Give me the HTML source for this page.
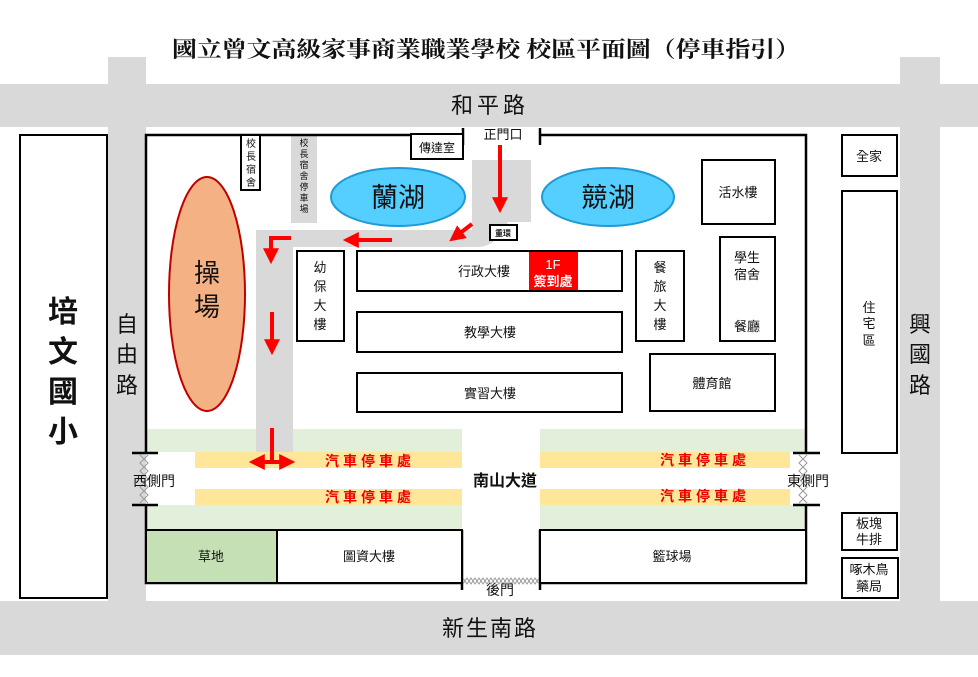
<!DOCTYPE html>
<html><head><meta charset="utf-8"><style>
html,body{margin:0;padding:0;background:#fff;width:978px;height:677px;overflow:hidden}
svg{display:block}
text{font-family:"Liberation Sans","Noto Sans CJK TC",sans-serif;fill:#111}
</style></head><body>
<svg width="978" height="677" viewBox="0 0 978 677" xmlns="http://www.w3.org/2000/svg">
<defs>
<marker id="ah" markerWidth="4" markerHeight="4" refX="2.2" refY="2" orient="auto" markerUnits="strokeWidth">
<path d="M0,0 L4,2 L0,4 z" fill="#f00"/></marker>
</defs>
<g fill="#d9d9d9">
<rect x="0" y="84" width="978" height="43"/>
<rect x="0" y="601" width="978" height="54"/>
<rect x="108" y="57" width="38" height="598"/>
<rect x="900" y="57" width="40" height="598"/>
</g>
<text x="172" y="57" textLength="628" lengthAdjust="spacingAndGlyphs" font-size="22" font-weight="bold" style="font-family:'Noto Serif CJK SC','Liberation Serif',serif">國立曾文高級家事商業職業學校 校區平面圖（停車指引）</text>
<text x="490" y="113" text-anchor="middle" font-size="22" letter-spacing="4">和平路</text>
<text x="490" y="636" text-anchor="middle" font-size="22" letter-spacing="2">新生南路</text>
<g font-size="22" text-anchor="middle">
<text x="127" y="332">自</text><text x="127" y="362">由</text><text x="127" y="393">路</text>
<text x="920" y="332">興</text><text x="920" y="362">國</text><text x="920" y="393">路</text>
</g>
<rect x="146" y="135" width="660" height="466" fill="#fff"/>
<rect x="146" y="429" width="316" height="101" fill="#e2efda"/>
<rect x="540" y="429" width="266" height="101" fill="#e2efda"/>
<rect x="146" y="468" width="316" height="21" fill="#fff"/>
<rect x="540" y="468" width="266" height="21" fill="#fff"/>
<rect x="146" y="452" width="49" height="53" fill="#fff"/>
<rect x="790" y="452" width="16" height="53" fill="#fff"/>
<g fill="#ffe699">
<rect x="195" y="452" width="267" height="16"/><rect x="195" y="489" width="267" height="16"/>
<rect x="540" y="452" width="250" height="16"/><rect x="540" y="489" width="250" height="16"/>
</g>
<g font-size="14" font-weight="bold" letter-spacing="4" text-anchor="middle">
<text x="370" y="466" style="fill:#e00">汽車停車處</text><text x="370" y="502" style="fill:#e00">汽車停車處</text>
<text x="705" y="465" style="fill:#e00">汽車停車處</text><text x="705" y="501" style="fill:#e00">汽車停車處</text>
</g>
<g fill="#d9d9d9">
<rect x="256" y="230" width="37" height="222"/>
<path d="M256,230 H472 V160 H531 V222 H508 Q496,247 478,247 H256 Z"/>
<rect x="291" y="135" width="26" height="88"/>
</g>
<ellipse cx="207" cy="294" rx="38" ry="117" fill="#f4b183" stroke="#c00000" stroke-width="2"/>
<text x="207" y="282" font-size="26" text-anchor="middle">操</text>
<text x="207" y="316" font-size="26" text-anchor="middle">場</text>
<ellipse cx="398" cy="197" rx="67" ry="29" fill="#55cfff" stroke="#1e9ad6" stroke-width="2"/>
<text x="398" y="207" font-size="27" text-anchor="middle">蘭湖</text>
<ellipse cx="608" cy="197" rx="66" ry="29" fill="#55cfff" stroke="#1e9ad6" stroke-width="2"/>
<text x="608" y="207" font-size="27" text-anchor="middle">競湖</text>
<g stroke="#000" stroke-width="2.5" fill="none">
<path d="M463,135 H146 V453"/>
<path d="M146,505 V583 H462"/>
<path d="M540,135 H806 V453"/>
<path d="M806,505 V583 H540"/>
<path d="M463,128 V145 M540,128 V145"/>
<path d="M462,530 V590 M540,530 V590"/>
<path d="M132,453 H158 M132,505 H158"/>
<path d="M793,453 H820 M793,505 H820"/>
</g>
<g stroke="#999" stroke-width="1" fill="none">
<path d="M140,455 L148,463 L140,471 L148,479 L140,487 L148,495 L140,503 M148,455 L140,463 L148,471 L140,479 L148,487 L140,495 L148,503"/>
<path d="M799,455 L807,463 L799,471 L807,479 L799,487 L807,495 L799,503 M807,455 L799,463 L807,471 L799,479 L807,487 L799,495 L807,503"/>
<path d="M463,578 L467,584 L471,578 L475,584 L479,578 L483,584 L487,578 L491,584 L495,578 L499,584 L503,578 L507,584 L511,578 L515,584 L519,578 L523,584 L527,578 L531,584 L535,578 L539,584 M463,584 L467,578 L471,584 L475,578 L479,584 L483,578 L487,584 L491,578 L495,584 L499,578 L503,584 L507,578 L511,584 L515,578 L519,584 L523,578 L527,584 L531,578 L535,584 L539,578"/>
</g>
<g fill="#fff" stroke="#000" stroke-width="2">
<rect x="20" y="135" width="87" height="463"/>
<rect x="241" y="135" width="19" height="55"/>
<rect x="411" y="134" width="52" height="25"/>
<rect x="490" y="225" width="27" height="15"/>
<rect x="702" y="160" width="73" height="64"/>
<rect x="720" y="237" width="55" height="104"/>
<rect x="636" y="251" width="48" height="90"/>
<rect x="297" y="251" width="47" height="90"/>
<rect x="357" y="251" width="265" height="40"/>
<rect x="357" y="312" width="265" height="40"/>
<rect x="357" y="373" width="265" height="39"/>
<rect x="650" y="354" width="125" height="57"/>
<rect x="842" y="135" width="55" height="41"/>
<rect x="842" y="191" width="55" height="262"/>
<rect x="842" y="513" width="55" height="37"/>
<rect x="842" y="558" width="56" height="40"/>
<rect x="146" y="530" width="131" height="53" fill="#c5e0b4"/>
<rect x="277" y="530" width="185" height="53"/>
<rect x="540" y="530" width="266" height="53"/>
</g>
<rect x="529" y="252" width="49" height="38" fill="#f00"/>
<text x="553" y="269" font-size="13" text-anchor="middle" style="fill:#fff">1F</text>
<text x="553" y="286" font-size="13" font-weight="bold" text-anchor="middle" style="fill:#fff">簽到處</text>
<g font-size="13" text-anchor="middle">
<text x="503" y="139">正門口</text>
<text x="437" y="152" font-size="12">傳達室</text>
<text x="503" y="236" font-size="8" font-weight="bold">重環</text>
<text x="738" y="197">活水樓</text>
<text x="747" y="262">學生</text><text x="747" y="279">宿舍</text><text x="747" y="331">餐廳</text>
<text x="660" y="272">餐</text><text x="660" y="291">旅</text><text x="660" y="310">大</text><text x="660" y="329">樓</text>
<text x="320" y="272">幼</text><text x="320" y="291">保</text><text x="320" y="310">大</text><text x="320" y="329">樓</text>
<text x="484" y="276">行政大樓</text>
<text x="490" y="337">教學大樓</text>
<text x="490" y="398">實習大樓</text>
<text x="712" y="388">體育館</text>
<text x="869" y="161">全家</text>
<text x="869" y="312">住</text><text x="869" y="328">宅</text><text x="869" y="345">區</text>
<text x="869" y="528">板塊</text><text x="869" y="544">牛排</text>
<text x="869" y="574">啄木鳥</text><text x="869" y="591">藥局</text>
<text x="211" y="561">草地</text>
<text x="369" y="561">圖資大樓</text>
<text x="672" y="561">籃球場</text>
<text x="154" y="486" font-size="14">西側門</text>
<text x="808" y="486" font-size="14">東側門</text>
<text x="500" y="595" font-size="14">後門</text>
<text x="505" y="486" font-size="16" font-weight="bold">南山大道</text>
</g>
<g font-size="10" text-anchor="middle">
<text x="251" y="147">校</text><text x="251" y="160">長</text><text x="251" y="173">宿</text><text x="251" y="186">舍</text>
<text x="304" y="146" font-size="9">校</text><text x="304" y="157" font-size="9">長</text><text x="304" y="168" font-size="9">宿</text><text x="304" y="179" font-size="9">舍</text><text x="304" y="190" font-size="9">停</text><text x="304" y="201" font-size="9">車</text><text x="304" y="212" font-size="9">場</text>
</g>
<g font-size="30" text-anchor="middle" font-weight="bold">
<text x="63" y="322">培</text><text x="63" y="362">文</text><text x="63" y="402">國</text><text x="63" y="442">小</text>
</g>
<g stroke="#f00" stroke-width="4" fill="none" marker-end="url(#ah)">
<path d="M500,145 V206"/>
<path d="M472,224 L455,237"/>
<path d="M392,240 H350"/>
<path d="M291,238 H271 V257"/>
<path d="M272,312 V348"/>
</g>
<g stroke="#f00" stroke-width="4" fill="none">
<path d="M272,428 V462"/>
<path d="M256,462 H288" marker-end="url(#ah)"/>
<path d="M288,462 H256" marker-end="url(#ah)"/>
</g>
</svg>
</body></html>
